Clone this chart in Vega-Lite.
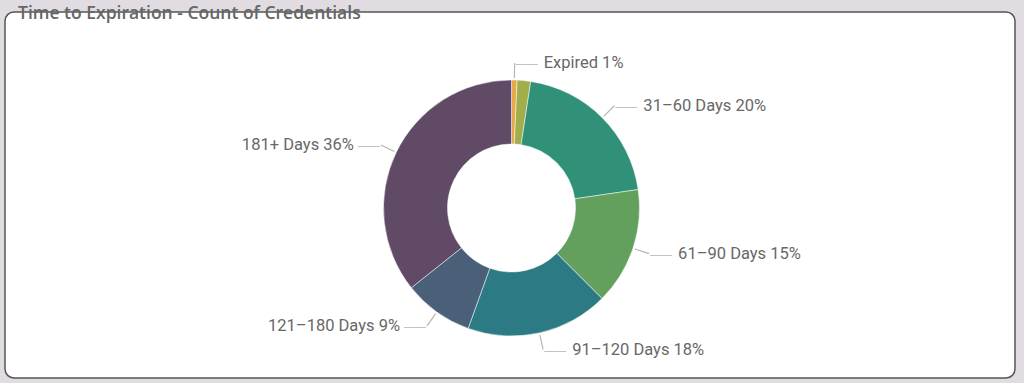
{
  "$schema": "https://vega.github.io/schema/vega-lite/v6.json",
  "width": 1024,
  "height": 383,
  "autosize": {"type": "fit", "contains": "padding"},
  "padding": {"left": 5, "top": 4, "right": 9, "bottom": 5},
  "background": "#e0dce1",
  "view": {"fill": "white", "stroke": "#555555", "strokeWidth": 1.5, "cornerRadius": 9},
  "title": {
    "text": "Time to Expiration - Count of Credentials",
    "anchor": "start",
    "frame": "group",
    "baseline": "alphabetic",
    "offset": -24,
    "dy": 0,
    "dx": 13,
    "font": "Open Sans",
    "fontSize": 17.5,
    "fontWeight": 600,
    "color": "#666666"
  },
  "data": {
    "values": [
      {"rank": 1, "cat": "Expired", "count": 7, "label": "Expired 1%"},
      {"rank": 2, "cat": "0–30 Days", "count": 17, "label": ""},
      {"rank": 3, "cat": "31–60 Days", "count": 203, "label": "31–60 Days 20%"},
      {"rank": 4, "cat": "61–90 Days", "count": 148, "label": "61–90 Days 15%"},
      {"rank": 5, "cat": "91–120 Days", "count": 180, "label": "91–120 Days 18%"},
      {"rank": 6, "cat": "121–180 Days", "count": 88, "label": "121–180 Days 9%"},
      {"rank": 7, "cat": "181+ Days", "count": 357, "label": "181+ Days 36%"}
    ]
  },
  "layer": [
    {
      "mark": {"type": "arc", "radius": 128, "radius2": 64, "stroke": "white", "strokeWidth": 0.5,
               "x": {"expr": "width/2+1.5"}, "y": {"expr": "height/2+13"}},
      "encoding": {
        "theta": {"field": "count", "type": "quantitative", "stack": true},
        "order": {"field": "rank", "type": "quantitative"},
        "color": {
          "field": "cat", "type": "nominal", "legend": null,
          "scale": {
            "domain": ["Expired", "0–30 Days", "31–60 Days", "61–90 Days", "91–120 Days", "121–180 Days", "181+ Days"],
            "range": ["#e6a94a", "#a2ad4c", "#309178", "#63a05e", "#2c7b84", "#4a6079", "#604a66"]
          }
        }
      }
    },
    {
      "mark": {"type": "arc", "radius": 145, "radius2": 130, "padAngle": 3, "fill": "transparent",
               "stroke": "#b5b5b5", "strokeWidth": 1.2,
               "x": {"expr": "width/2+1.5"}, "y": {"expr": "height/2+13"}},
      "encoding": {
        "theta": {"field": "count", "type": "quantitative", "stack": true},
        "order": {"field": "rank", "type": "quantitative"},
        "strokeOpacity": {"condition": {"test": "datum.rank == 2", "value": 0}, "value": 1}
      }
    },
    {
      "mark": {"type": "text", "radius": 145, "align": "left", "baseline": "middle", "dx": 1, "dy": 1,
               "font": "Liberation Sans", "fontSize": 11, "color": "#b5b5b5",
               "x": {"expr": "width/2+1.5"}, "y": {"expr": "height/2+13"}},
      "encoding": {
        "theta": {"field": "count", "type": "quantitative", "stack": true},
        "order": {"field": "rank", "type": "quantitative"},
        "text": {"value": "——"},
        "opacity": {"condition": {"test": "datum.rank == 2 || datum.rank >= 6", "value": 0}, "value": 1}
      }
    },
    {
      "mark": {"type": "text", "radius": 145, "align": "right", "baseline": "middle", "dx": -1, "dy": 1,
               "font": "Liberation Sans", "fontSize": 11, "color": "#b5b5b5",
               "x": {"expr": "width/2+1.5"}, "y": {"expr": "height/2+13"}},
      "encoding": {
        "theta": {"field": "count", "type": "quantitative", "stack": true},
        "order": {"field": "rank", "type": "quantitative"},
        "text": {"value": "——"},
        "opacity": {"condition": {"test": "datum.rank < 6", "value": 0}, "value": 1}
      }
    },
    {
      "mark": {"type": "text", "radius": 145, "align": "left", "baseline": "middle", "dx": 29,
               "font": "Roboto", "fontSize": 16.5, "color": "#686868",
               "x": {"expr": "width/2+1.5"}, "y": {"expr": "height/2+13"}},
      "encoding": {
        "theta": {"field": "count", "type": "quantitative", "stack": true},
        "order": {"field": "rank", "type": "quantitative"},
        "text": {"field": "label", "type": "nominal"},
        "opacity": {"condition": {"test": "datum.rank >= 6", "value": 0}, "value": 1}
      }
    },
    {
      "mark": {"type": "text", "radius": 145, "align": "right", "baseline": "middle", "dx": -27,
               "font": "Roboto", "fontSize": 16.5, "color": "#686868",
               "x": {"expr": "width/2+1.5"}, "y": {"expr": "height/2+13"}},
      "encoding": {
        "theta": {"field": "count", "type": "quantitative", "stack": true},
        "order": {"field": "rank", "type": "quantitative"},
        "text": {"field": "label", "type": "nominal"},
        "opacity": {"condition": {"test": "datum.rank < 6", "value": 0}, "value": 1}
      }
    }
  ]
}
